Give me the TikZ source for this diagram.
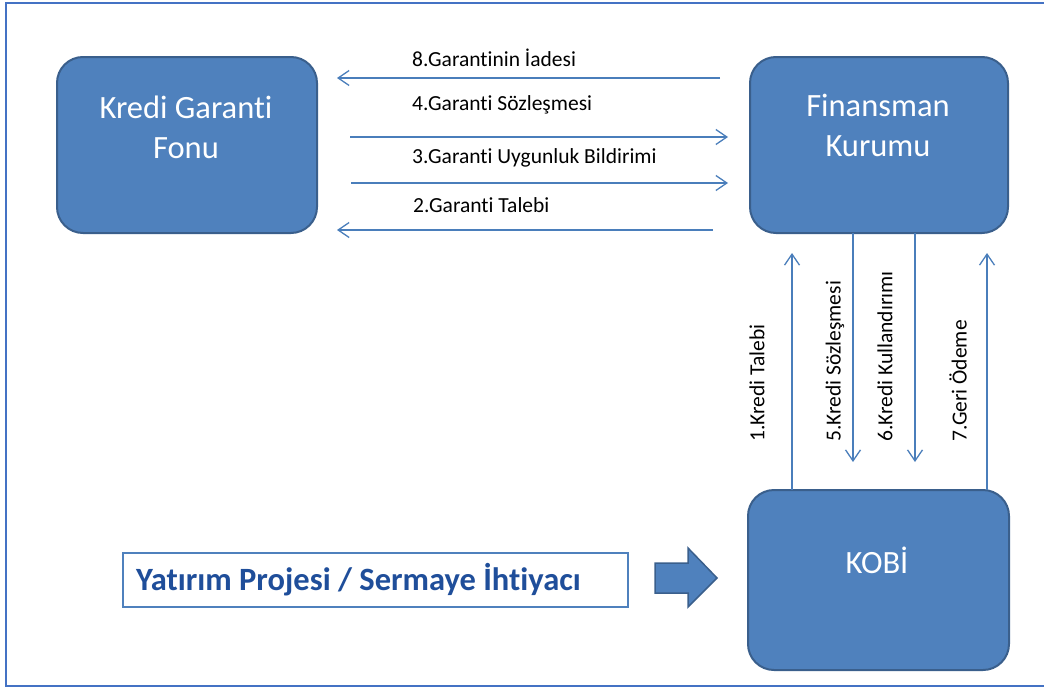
\documentclass[tikz,border=0pt]{standalone}
\usepackage{fontspec}
\setmainfont{Carlito}[Ligatures=NoCommon]
\usetikzlibrary{arrows.meta,calc}
\definecolor{boxfill}{HTML}{4F81BD}
\definecolor{boxedge}{HTML}{3A5F8C}
\definecolor{arr}{HTML}{4A7EBB}
\definecolor{framec}{HTML}{4472C4}
\definecolor{projtext}{HTML}{1F4E9A}
\begin{document}
\begin{tikzpicture}[x=1pt,y=-1pt,
  entity/.style={draw=boxedge, line width=2pt, fill=boxfill, rounded corners=26pt, inner sep=0pt, outer sep=0pt},
  boxtext/.style={text=white, font=\fontsize{32.5}{40}\selectfont, align=center, inner sep=0pt},
  flow/.style={draw=arr, line width=1.3pt, -{Straight Barb[length=11pt,width=15pt]}},
  flowlabel/.style={font=\fontsize{21.5}{24}\selectfont, inner sep=0pt, anchor=west},
  vlabel/.style={flowlabel, rotate=90},
]
\useasboundingbox (0,0) rectangle (1044,688);
% frame
\draw[framec, line width=2pt] (1046,3) -- (6,3) -- (6,686) -- (1046,686);

% boxes
\node[entity, minimum width=260pt, minimum height=176pt] (kgf) at (187,145) {};
\node[entity, minimum width=258pt, minimum height=176pt] (fk) at (879,145) {};
\node[entity, minimum width=261pt, minimum height=180pt] (kobi) at (878.5,580) {};
\node[boxtext] (kgft) at (186,127) {Kredi Garanti\\Fonu};
\node[boxtext] (fkt) at (878,125) {Finansman\\Kurumu};
\node[boxtext] (kobit) at (877,560) {KOBİ};

% project box
\node[draw=boxfill, line width=2.5pt, minimum width=505pt, minimum height=54pt, inner sep=0pt] (proj) at (375.5,580) {};
\node[anchor=west, inner sep=0pt, text=projtext, font=\fontsize{32.5}{36}\bfseries] (projt) at (136,580) {Yatırım Projesi / Sermaye İhtiyacı};
\draw[fill=boxfill, draw=boxedge, line width=1.5pt, line join=miter]
  (655,563) -- (688,563) -- (688,548) -- (717,578) -- (688,607) -- (688,593) -- (655,593) -- cycle;

% horizontal flows
\coordinate (h8a) at (720,78);  \coordinate (h8b) at (337,78);
\coordinate (h4a) at (350,137); \coordinate (h4b) at (728,137);
\coordinate (h3a) at (351,183); \coordinate (h3b) at (728,183);
\coordinate (h2a) at (713,230); \coordinate (h2b) at (337,230);
\draw[flow] (h8a) -- (h8b);
\draw[flow] (h4a) -- (h4b);
\draw[flow] (h3a) -- (h3b);
\draw[flow] (h2a) -- (h2b);
\node[flowlabel] (l8) at (412,58) {8.Garantinin İadesi};
\node[flowlabel] (l4) at (412,105) {4.Garanti Sözleşmesi};
\node[flowlabel] (l3) at (412,158) {3.Garanti Uygunluk Bildirimi};
\node[flowlabel] (l2) at (413,205) {2.Garanti Talebi};

% vertical flows
\coordinate (v1) at (792,253);
\coordinate (v5) at (853,462);
\coordinate (v6) at (915,462);
\coordinate (v7) at (987,253);
\draw[flow] (kobi.north -| v1) -- (v1);
\draw[flow] (fk.south -| v5) -- (v5);
\draw[flow] (fk.south -| v6) -- (v6);
\draw[flow] (kobi.north -| v7) -- (v7);
\node[vlabel] (l1) at (757,442) {1.Kredi Talebi};
\node[vlabel] (l5) at (835,442) {5.Kredi Sözleşmesi};
\node[vlabel] (l6) at (885,442) {6.Kredi Kullandırımı};
\node[vlabel] (l7) at (958,442) {7.Geri Ödeme};
\end{tikzpicture}
\end{document}
